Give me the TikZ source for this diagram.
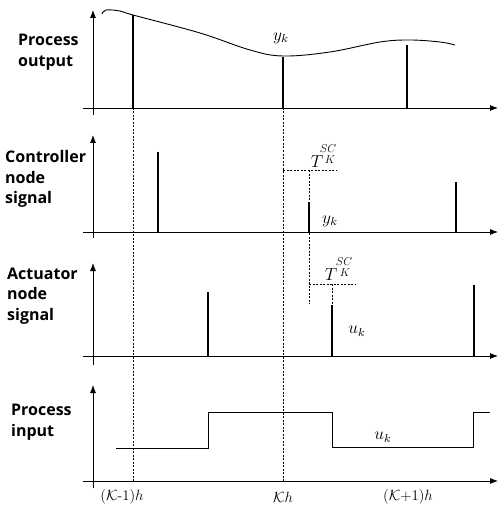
\documentclass[tikz,border=0pt]{standalone}
\usepackage{fontspec}
\newfontfamily\sigfont{Open Sans}
\usetikzlibrary{arrows.meta}
\tikzset{
  axis/.style={line width=0.8pt, -{Latex[length=8pt,width=6pt]}},
  stem/.style={line width=2.6pt},
  guide/.style={line width=0.5pt, dash pattern=on 2pt off 1.5pt},
  sig/.style={line width=0.9pt},
  panel/.style={anchor=west, align=left, inner sep=0pt, font=\sigfont\bfseries\fontsize{16}{20.5}\selectfont},
  mlabel/.style={inner sep=0pt, scale=1.45, font=\large},
  slabel/.style={inner sep=0pt, scale=0.95, font=\large}
}
\begin{document}
\begin{tikzpicture}[x=1pt, y=-1pt]
  \useasboundingbox (0,0) rectangle (498,513);

  % panel titles
  \node[panel] (outlbl) at (18,52) {Process\\output};
  \node[panel] (ctrllbl) at (5,179) {Controller\\node\\signal};
  \node[panel] (actlbl) at (7,296) {Actuator\\node\\signal};
  \node[panel] (inlbl) at (11,422) {Process\\input};

  % axes
  \foreach \yb/\yt/\yh in {115/10/108, 238/135/232, 365/263/356, 488/385/481} {
    \draw[axis] (93,\yb) -- (93,\yt);
    \draw[axis] (83,\yh) -- (498,\yh);
  }

  % sampling instants
  \coordinate (km1top) at (133,108);
  \coordinate (km1bot) at (133,481);
  \coordinate (ktop) at (283,108);
  \coordinate (kbot) at (283,481);
  \draw[guide] (km1top) -- (km1bot);
  \draw[guide] (ktop) -- (kbot);
  \node[mlabel, scale=0.85] (tkm1) at (122,497) {$(\mathcal{K}\mbox{-}1)h$};
  \node[mlabel, scale=0.85] (tk) at (283,497) {$\mathcal{K}h$};
  \node[mlabel, scale=0.85] (tkp1) at (408,497) {$(\mathcal{K}\mbox{+}1)h$};

  % process output
  \draw[sig] plot[smooth, tension=0.6] coordinates {(102,14) (106,10) (120,11) (133,15) (200,33) (250,50) (283,56) (330,52) (380,42) (410,40) (440,42) (455,45)};
  \foreach \x/\y in {133/15, 283/57, 407/45}
    \draw[stem] (\x,\y) -- (\x,108);
  \node[mlabel] (yout) at (281,38) {$y_k$};

  % controller node
  \foreach \x/\y in {158/152, 309/202, 456/182}
    \draw[stem] (\x,\y) -- (\x,232);
  \coordinate (scstart) at (283,170);
  \coordinate (scend) at (336,170);
  \coordinate (scdrop) at (309,170);
  \draw[guide] (scstart) -- (scend);
  \draw[guide] (scdrop) -- (309,304);
  \node[mlabel] (tsc1) at (317,162) {$T$};
  \node[slabel] (tsc1sup) at (328,149) {$SC$};
  \node[slabel] (tsc1sub) at (330,160) {$K$};
  \node[mlabel] (yctrl) at (330,221) {$y_k$};

  % actuator node
  \foreach \x/\y in {208/292, 332/305, 474/285}
    \draw[stem] (\x,\y) -- (\x,356);
  \coordinate (acstart) at (309,284);
  \coordinate (acend) at (355,284);
  \draw[guide] (acstart) -- (acend);
  \draw[guide] (332,284) -- (332,305);
  \node[mlabel] (tsc2) at (331,275) {$T$};
  \node[slabel] (tsc2sup) at (344,262) {$SC$};
  \node[slabel] (tsc2sub) at (345,273) {$K$};
  \node[mlabel] (uact) at (357,331) {$u_k$};

  % process input
  \draw[sig] (116,448) -- (208,448) -- (208,412) -- (332,412) -- (332,447) -- (473,447) -- (473,412) -- (490,412);
  \node[mlabel] (uin) at (383,437) {$u_k$};
\end{tikzpicture}
\end{document}
